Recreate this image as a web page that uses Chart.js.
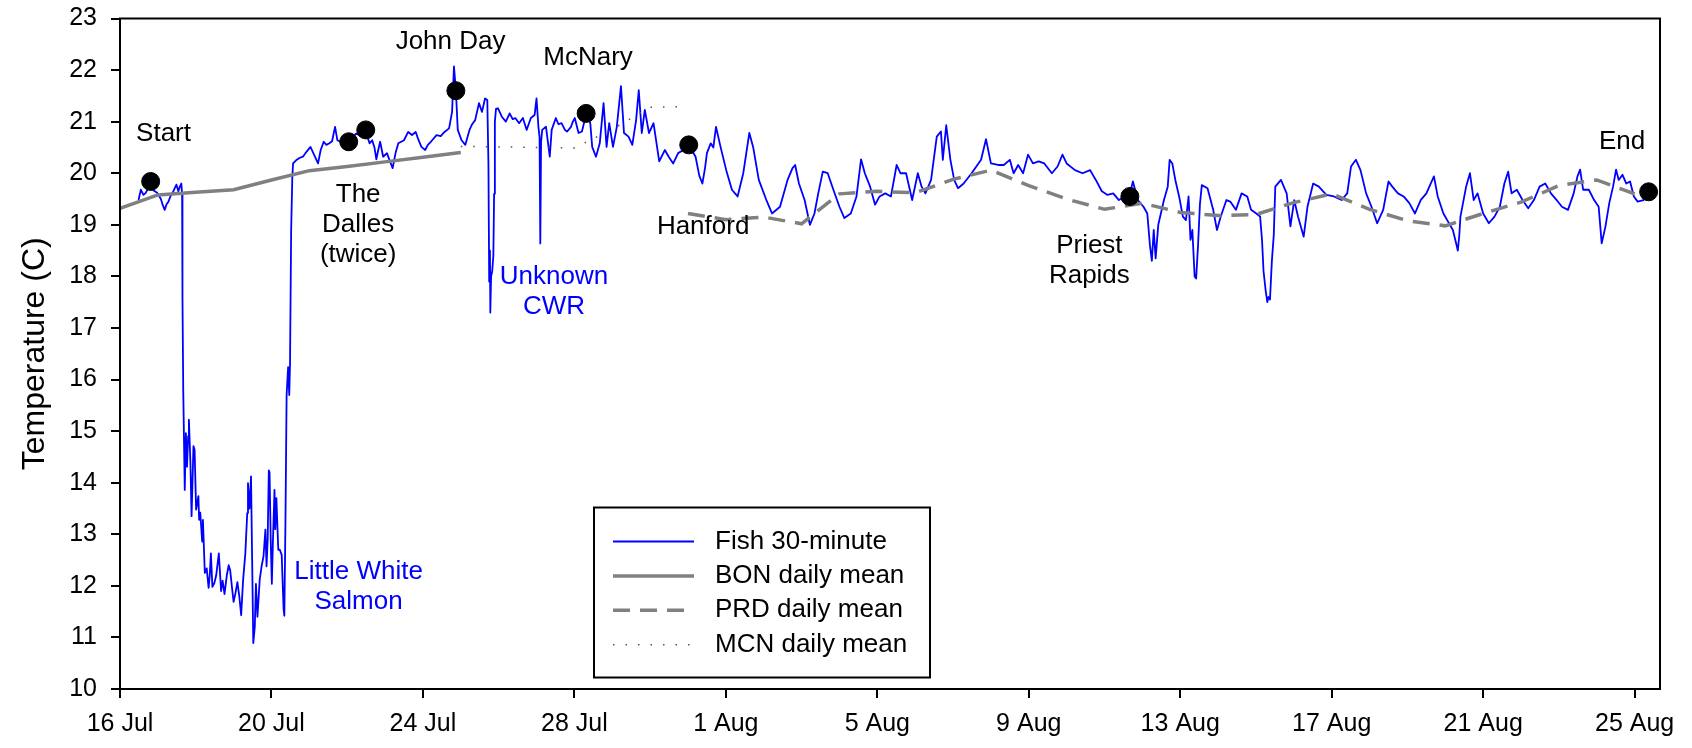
<!DOCTYPE html>
<html>
<head>
<meta charset="utf-8">
<script src="https://cdn.jsdelivr.net/npm/chart.js@4.4.0/dist/chart.umd.min.js"></script>
<style>
  html, body { margin: 0; padding: 0; background: #fff; }
  #wrap { width: 1692px; height: 748px; }
</style>
</head>
<body>
<div id="wrap"><canvas id="chart" width="1692" height="748"></canvas></div>
<script>
// x values are days since 16 Jul 00:00
const xTickDays = [0, 4, 8, 12, 16, 20, 24, 28, 32, 36, 40];
const xTickLabels = ['16 Jul', '20 Jul', '24 Jul', '28 Jul', '1 Aug', '5 Aug', '9 Aug', '13 Aug', '17 Aug', '21 Aug', '25 Aug'];

// Bonneville daily mean
const bonDays = [0, 1, 2, 3, 4, 5, 6, 7, 8, 9];
const bonTemps = [19.32, 19.58, 19.63, 19.68, 19.87, 20.05, 20.13, 20.22, 20.31, 20.40];

// Priest Rapids daily mean
const prdDays = [15, 16, 17, 18, 19, 20, 21, 22, 23, 24, 25, 26, 27, 28, 29, 30, 31, 32, 33, 34, 35, 36, 37, 38, 39, 40];
const prdTemps = [19.22, 19.10, 19.15, 19.02, 19.60, 19.65, 19.62, 19.88, 20.06, 19.76, 19.50, 19.30, 19.42, 19.24, 19.18, 19.20, 19.43, 19.60, 19.30, 19.08, 18.98, 19.22, 19.44, 19.76, 19.87, 19.60];

// McNary daily mean
const mcnDays = [9, 10, 11, 12, 13, 14, 15];
const mcnTemps = [20.52, 20.51, 20.50, 20.49, 20.85, 21.28, 21.29];

// detection sites (black dots)
const siteDays = [0.81, 6.04, 6.49, 8.87, 12.31, 15.02, 26.67, 40.37];
const siteTemps = [19.84, 20.61, 20.84, 21.60, 21.16, 20.55, 19.55, 19.64];

// fish body temperature
const fishReadings = [
  [0.49,19.48],[0.55,19.68],[0.62,19.58],[0.68,19.62],[0.75,19.72],[0.83,19.7],[0.9,19.66],[0.98,19.62],[1.04,19.55],[1.08,19.5],
  [1.13,19.38],[1.18,19.29],[1.23,19.4],[1.28,19.45],[1.33,19.55],[1.39,19.62],[1.44,19.7],[1.49,19.78],[1.54,19.65],[1.58,19.74],[1.62,19.8],
  [1.64,19.6],[1.65,17.6],[1.67,15.8],[1.71,13.86],[1.74,14.96],[1.77,14.31],[1.8,14.9],[1.82,15.22],[1.86,14.38],[1.89,13.35],
  [1.94,14.71],[1.97,14.64],[2.01,13.48],[2.04,13.61],[2.07,13.74],[2.09,13.28],[2.12,13.42],[2.17,12.86],[2.19,13.28],[2.24,12.25],
  [2.29,12.34],[2.34,11.96],[2.37,12.2],[2.4,12.63],[2.44,11.98],[2.49,12.05],[2.54,12.2],[2.61,12.63],[2.67,11.9],[2.71,12.1],
  [2.76,11.84],[2.82,12.2],[2.87,12.4],[2.91,12.3],[2.96,11.95],[3.0,11.69],[3.05,11.86],[3.1,12.07],[3.15,11.8],[3.2,11.43],
  [3.25,12.1],[3.31,12.63],[3.36,13.41],[3.38,13.99],[3.42,13.5],[3.46,14.12],[3.49,12.5],[3.52,10.89],[3.56,11.21],[3.59,12.04],
  [3.63,11.4],[3.69,12.12],[3.74,12.38],[3.79,12.57],[3.84,13.09],[3.87,12.38],[3.9,12.9],[3.93,14.24],[3.95,14.2],[3.98,12.9],
  [4.01,12.04],[4.04,12.9],[4.08,13.86],[4.1,13.1],[4.13,13.7],[4.18,12.7],[4.22,12.7],[4.27,12.6],[4.32,11.55],[4.34,11.42],
  [4.37,13.28],[4.4,15.7],[4.44,16.24],[4.47,15.7],[4.49,16.3],[4.52,18.9],[4.55,19.9],
  [4.57,20.19],[4.65,20.25],[4.75,20.3],[4.83,20.32],[4.93,20.42],[5.03,20.51],[5.13,20.35],[5.23,20.19],[5.3,20.45],[5.38,20.61],
  [5.45,20.55],[5.53,20.58],[5.6,20.62],[5.68,20.9],[5.74,20.64],[5.85,20.6],[5.95,20.66],[6.04,20.65],[6.14,20.7],[6.24,20.77],
  [6.35,20.72],[6.49,20.8],[6.59,20.58],[6.66,20.64],[6.72,20.5],[6.77,20.27],[6.82,20.45],[6.87,20.61],[6.95,20.32],[7.05,20.39],
  [7.12,20.25],[7.2,20.1],[7.28,20.4],[7.35,20.58],[7.5,20.64],[7.61,20.8],[7.71,20.74],[7.81,20.8],[7.88,20.65],[7.96,20.51],
  [8.06,20.45],[8.13,20.55],[8.21,20.61],[8.36,20.74],[8.47,20.72],[8.57,20.8],[8.69,20.87],[8.77,21.19],[8.82,22.07],[8.87,21.61],
  [8.92,20.84],[9.02,20.64],[9.12,20.55],[9.23,20.84],[9.3,20.95],[9.38,21.03],[9.48,21.36],[9.56,21.19],[9.64,21.45],[9.7,21.42],
  [9.73,20.2],[9.75,17.9],[9.77,18.5],[9.78,17.3],[9.8,18.0],[9.83,18.1],[9.86,18.4],[9.88,19.6],[9.9,21.0],[9.93,21.25],
  [9.98,21.26],[10.08,21.1],[10.19,21.0],[10.29,21.16],[10.37,21.05],[10.44,21.07],[10.54,20.97],[10.64,21.07],[10.74,20.84],[10.85,21.07],
  [10.95,21.13],[11.0,21.45],[11.05,20.9],[11.08,20.7],[11.1,18.64],[11.12,20.6],[11.15,20.84],[11.25,20.9],[11.35,20.32],[11.4,20.84],
  [11.51,21.07],[11.58,20.95],[11.66,20.97],[11.75,20.84],[11.81,20.81],[11.91,20.9],[11.96,21.0],[12.01,21.07],[12.11,20.78],[12.2,20.81],
  [12.31,21.15],[12.42,20.97],[12.47,20.51],[12.57,20.32],[12.67,20.58],[12.77,21.36],[12.85,20.51],[12.92,20.97],[13.02,20.51],[13.12,20.9],
  [13.23,21.69],[13.31,20.78],[13.43,20.71],[13.53,20.55],[13.63,21.03],[13.7,21.61],[13.78,20.78],[13.86,21.23],[13.97,20.78],[14.09,20.97],
  [14.24,20.23],[14.39,20.45],[14.49,20.32],[14.61,20.19],[14.74,20.39],[14.88,20.45],[15.02,20.6],[15.1,20.45],[15.2,20.32],[15.3,19.95],
  [15.38,19.8],[15.45,20.1],[15.5,20.39],[15.6,20.58],[15.67,20.5],[15.74,20.9],[15.86,20.51],[16.01,20.06],[16.16,19.68],[16.31,19.55],
  [16.46,20.0],[16.62,20.78],[16.72,20.51],[16.87,19.87],[17.07,19.48],[17.22,19.22],[17.43,19.35],[17.63,19.87],[17.76,20.1],[17.83,20.16],
  [17.93,19.8],[18.08,19.48],[18.22,19.0],[18.34,19.22],[18.44,19.61],[18.56,20.03],[18.69,20.0],[18.84,19.68],[19.0,19.35],[19.13,19.13],
  [19.3,19.22],[19.45,19.55],[19.57,20.27],[19.67,20.0],[19.81,19.74],[19.94,19.39],[20.06,19.55],[20.21,19.61],[20.36,19.55],[20.51,20.16],
  [20.61,20.0],[20.76,20.0],[20.92,19.48],[21.07,20.0],[21.17,19.74],[21.27,19.61],[21.42,19.87],[21.57,20.71],[21.68,20.81],[21.73,20.26],
  [21.82,20.93],[21.93,20.26],[22.03,19.87],[22.13,19.71],[22.28,19.8],[22.49,20.0],[22.74,20.26],[22.87,20.66],[23.0,20.19],[23.19,20.16],
  [23.34,20.16],[23.5,20.26],[23.6,20.0],[23.72,20.16],[23.85,20.0],[23.98,20.36],[24.11,20.19],[24.26,20.23],[24.41,20.19],[24.61,20.0],
  [24.76,20.13],[24.89,20.36],[25.0,20.19],[25.22,20.06],[25.42,20.0],[25.62,20.06],[25.77,19.87],[25.93,19.65],[26.08,19.58],[26.23,19.61],
  [26.38,19.48],[26.53,19.55],[26.67,19.6],[26.75,19.84],[26.88,19.48],[27.03,19.35],[27.13,19.22],[27.2,18.6],[27.25,18.3],[27.3,18.9],
  [27.35,18.35],[27.42,19.0],[27.47,19.16],[27.57,19.48],[27.67,19.74],[27.72,20.26],[27.79,20.19],[27.87,19.87],[27.97,19.55],[28.07,19.16],
  [28.15,19.09],[28.22,19.55],[28.27,18.71],[28.32,18.9],[28.38,18.0],[28.42,17.96],[28.47,18.6],[28.52,19.4],[28.57,19.77],[28.72,19.71],
  [28.87,19.29],[28.97,18.9],[29.07,19.16],[29.22,19.48],[29.32,19.45],[29.47,19.29],[29.62,19.61],[29.77,19.55],[29.87,19.29],[30.01,19.22],
  [30.11,19.16],[30.16,18.7],[30.2,18.1],[30.26,17.7],[30.3,17.5],[30.33,17.6],[30.37,17.55],[30.42,18.3],[30.47,18.8],[30.51,19.74],
  [30.66,19.87],[30.81,19.61],[30.91,18.97],[31.01,19.48],[31.11,19.16],[31.26,18.77],[31.36,19.35],[31.51,19.8],[31.66,19.74],[31.86,19.58],
  [32.06,19.55],[32.26,19.48],[32.41,19.61],[32.51,20.13],[32.64,20.26],[32.76,20.06],[32.91,19.61],[33.05,19.35],[33.2,19.03],[33.36,19.29],
  [33.5,19.84],[33.6,19.74],[33.75,19.61],[33.9,19.55],[34.05,19.42],[34.2,19.22],[34.35,19.48],[34.5,19.61],[34.7,19.94],[34.8,19.55],
  [34.95,19.22],[35.05,19.09],[35.2,18.9],[35.3,18.6],[35.33,18.5],[35.37,18.8],[35.4,19.16],[35.55,19.74],[35.65,20.0],[35.75,19.48],
  [35.85,19.61],[36.0,19.22],[36.15,19.03],[36.3,19.16],[36.44,19.35],[36.56,19.8],[36.66,20.03],[36.75,19.61],[36.89,19.68],[37.04,19.48],
  [37.19,19.32],[37.34,19.48],[37.49,19.74],[37.64,19.8],[37.79,19.61],[37.94,19.48],[38.08,19.35],[38.24,19.29],[38.39,19.61],[38.49,19.94],
  [38.56,20.07],[38.64,19.68],[38.79,19.68],[38.93,19.48],[39.05,19.35],[39.13,18.64],[39.23,18.97],[39.33,19.42],[39.43,19.74],[39.51,20.07],
  [39.58,19.87],[39.68,19.97],[39.78,19.8],[39.88,19.84],[39.98,19.55],[40.08,19.45],[40.23,19.48],[40.37,19.6]
];

const BLACK = '#000000';
const BLUE = '#0000ff';
const GREY = '#808080';
const FONT = '"Liberation Sans", Arial, sans-serif';

// text notes placed at data coordinates (first line centre)
const notes = [
  { text: ['Start'], day: 1.15, temp: 20.76, color: BLACK },
  { text: ['The', 'Dalles', '(twice)'], day: 6.29, temp: 19.58, color: BLACK },
  { text: ['John Day'], day: 8.73, temp: 22.55, color: BLACK },
  { text: ['McNary'], day: 12.36, temp: 22.24, color: BLACK },
  { text: ['Unknown', 'CWR'], day: 11.46, temp: 18.0, color: BLUE },
  { text: ['Hanford'], day: 15.4, temp: 18.97, color: BLACK },
  { text: ['Priest', 'Rapids'], day: 25.6, temp: 18.6, color: BLACK },
  { text: ['End'], day: 39.67, temp: 20.61, color: BLACK },
  { text: ['Little White', 'Salmon'], day: 6.3, temp: 12.28, color: BLUE }
];

const legendOrder = ['Fish 30-minute', 'BON daily mean', 'PRD daily mean', 'MCN daily mean'];

function pairs(xs, ys) { return xs.map((x, i) => ({ x, y: ys[i] })); }

const frameAndNotes = {
  id: 'frameAndNotes',
  afterDatasetsDraw(chart) {
    const { ctx, chartArea: a, scales: { x, y } } = chart;
    ctx.save();
    // box round the plot
    ctx.strokeStyle = BLACK;
    ctx.lineWidth = 2;
    ctx.strokeRect(a.left, a.top, a.right - a.left, a.bottom - a.top);

    // labels
    ctx.font = '26px ' + FONT;
    ctx.textAlign = 'center';
    ctx.textBaseline = 'middle';
    for (const n of notes) {
      const px = x.getPixelForValue(n.day);
      const py = y.getPixelForValue(n.temp);
      ctx.fillStyle = n.color;
      n.text.forEach((line, i) => ctx.fillText(line, px, py + i * 30));
    }

    // legend box
    const bx = a.left + 474, by = a.top + 489, bw = 336, bh = 170;
    ctx.fillStyle = '#fff';
    ctx.fillRect(bx, by, bw, bh);
    ctx.strokeStyle = BLACK;
    ctx.lineWidth = 2;
    ctx.strokeRect(bx, by, bw, bh);
    ctx.textAlign = 'left';
    legendOrder.forEach((label, i) => {
      const ds = chart.data.datasets.find(d => d.label === label);
      const ry = by + 34 + i * 34.4;
      ctx.beginPath();
      ctx.setLineDash(ds.borderDash || []);
      ctx.strokeStyle = ds.borderColor;
      ctx.lineWidth = ds.borderWidth;
      ctx.moveTo(bx + 19, ry);
      ctx.lineTo(bx + 100, ry);
      ctx.stroke();
      ctx.setLineDash([]);
      ctx.fillStyle = BLACK;
      ctx.fillText(label, bx + 121, ry);
    });
    ctx.restore();
  }
};

const axisGrid = { drawOnChartArea: false, drawTicks: true, tickLength: 9, color: BLACK, lineWidth: 2 };

const chart = new Chart(document.getElementById('chart'), {
  type: 'line',
  data: {
    datasets: [
      {
        label: 'Sites',
        type: 'scatter',
        data: pairs(siteDays, siteTemps),
        backgroundColor: BLACK,
        borderColor: BLACK,
        pointRadius: 9,
        order: 0
      },
      {
        label: 'PRD daily mean',
        data: pairs(prdDays, prdTemps),
        borderColor: GREY,
        borderWidth: 3.5,
        borderDash: [17, 10],
        pointRadius: 0,
        order: 1
      },
      {
        label: 'BON daily mean',
        data: pairs(bonDays, bonTemps),
        borderColor: GREY,
        borderWidth: 3.5,
        pointRadius: 0,
        order: 2
      },
      {
        label: 'MCN daily mean',
        data: pairs(mcnDays, mcnTemps),
        borderColor: '#555555',
        borderWidth: 1.5,
        borderDash: [1.5, 11],
        pointRadius: 0,
        order: 3
      },
      {
        label: 'Fish 30-minute',
        data: fishReadings.map(r => ({ x: r[0], y: r[1] })),
        borderColor: BLUE,
        borderWidth: 1.8,
        borderJoinStyle: 'round',
        pointRadius: 0,
        order: 4
      }
    ]
  },
  options: {
    responsive: false,
    animation: false,
    layout: { padding: { top: 18.5, right: 32, left: 0, bottom: 0 } },
    plugins: { legend: { display: false }, tooltip: { enabled: false } },
    elements: { line: { tension: 0 } },
    scales: {
      x: {
        type: 'linear',
        min: 0,
        max: 40.67,
        afterBuildTicks: s => { s.ticks = xTickDays.map(v => ({ value: v })); },
        afterFit: s => { s.height = 59; s.paddingLeft = 0; s.paddingRight = 0; },
        ticks: {
          callback: (v, i) => xTickLabels[i],
          autoSkip: false,
          maxRotation: 0,
          padding: 11,
          color: BLACK,
          font: { family: FONT, size: 25 }
        },
        grid: axisGrid,
        border: { display: true, color: BLACK, width: 2 }
      },
      y: {
        min: 10,
        max: 23,
        afterFit: s => { s.width = 120; s.paddingTop = 0; s.paddingBottom = 0; },
        ticks: {
          stepSize: 1,
          padding: 14,
          color: BLACK,
          font: { family: FONT, size: 25 }
        },
        grid: axisGrid,
        border: { display: true, color: BLACK, width: 2 },
        title: {
          display: true,
          text: 'Temperature (C)',
          color: BLACK,
          font: { family: FONT, size: 32 },
          padding: { top: 16, bottom: 0 }
        }
      }
    }
  },
  plugins: [frameAndNotes]
});
</script>
</body>
</html>
